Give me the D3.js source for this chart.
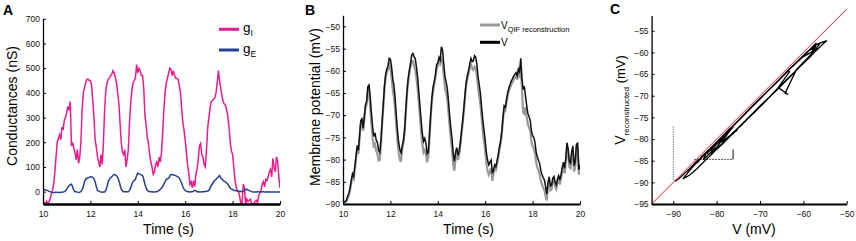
<!DOCTYPE html>
<html>
<head>
<meta charset="utf-8">
<script src="https://cdn.jsdelivr.net/npm/d3@7"></script>
<style>
  body { margin: 0; background: #fff; }
  svg { font-family: "Liberation Sans", Arial, sans-serif; }
</style>
</head>
<body>
<script>
// recordings sampled every 0.05 s from 10 s to 20 s (one row = 1 s)
const timeStart = 10;
const timeStep = 0.05;

const gInh = [
  -40, -45, -50, -38, -48, -42, -30, -10, 5, 30, 80, 140, 200, 215, 230, 210, 262, 250, 290, 300,
  320, 345, 330, 365, 185, 200, 175, 160, 130, 170, 115, 140, 200, 330, 400, 420, 440, 455, 455, 450,
  450, 430, 370, 300, 209, 180, 140, 120, 100, 150, 110, 200, 330, 410, 440, 455, 460, 470, 475, 490,
  480, 465, 440, 400, 360, 280, 200, 160, 150, 170, 100, 130, 170, 280, 360, 410, 440, 450, 460, 515,
  480, 500, 490, 470, 470, 420, 310, 270, 220, 195, 150, 120, 100, 70, 80, 110, 120, 100, 140, 120,
  160, 240, 330, 400, 440, 460, 480, 500, 495, 470, 490, 470, 460, 458, 455, 430, 400, 340, 280, 250,
  209, 160, 110, 75, 30, 40, 15, 45, 20, 70, 90, 130, 185, 195, 150, 140, 110, 100, 170, 260,
  300, 340, 365, 370, 375, 380, 400, 440, 490, 450, 420, 390, 365, 355, 350, 330, 305, 260, 200, 165,
  150, 100, 47, 20, 5, 0, -20, -50, -50, 30, 15, -50, -30, -40, -35, -30, -45, -50, -48, -40,
  -35, -45, -15, -5, 5, 30, 40, 20, 50, 45, 60, 80, 90, 60, 135, 100, 80, 140, 125, 60,
  15
];

const gExc = [
  7, 8, 8, 6, 4, 1, 0, -2, -3, -3, -3, -2, -2, -3, -3, -2, -2, -1, 0, 3,
  10, 18, 25, 28, 30, 20, 5, 0, 0, -2, -3, -2, 0, 8, 20, 40, 50, 54, 55, 58,
  60, 60, 58, 52, 40, 20, 5, 2, 0, -1, -2, -1, -1, 5, 20, 40, 50, 55, 60, 65,
  70, 68, 65, 58, 45, 28, 10, 3, 0, 0, 0, 0, 0, 5, 15, 30, 40, 45, 50, 65,
  75, 72, 70, 68, 65, 50, 30, 15, 5, 2, 0, 0, 0, -1, -1, 0, 0, 2, 5, 10,
  15, 22, 30, 40, 50, 52, 55, 62, 70, 68, 68, 66, 65, 62, 60, 55, 45, 35, 20, 10,
  5, 2, 0, 0, -1, 0, 0, 2, 5, 3, 0, 0, -1, -1, 0, 0, 0, 1, 2, 3,
  5, 15, 25, 32, 40, 45, 50, 55, 60, 65, 55, 52, 45, 42, 40, 35, 30, 22, 15, 10,
  8, 6, 5, 4, 3, 2, 2, 1, 0, 3, 5, 8, 10, 6, 5, 2, 0, -1, -1, -1,
  -1, 0, 0, -1, -1, 0, 0, -1, -1, -1, 0, -1, -1, -1, -1, -1, -1, -1, -1, -1,
  -1
];

const vMeas = [
  -89.5, -89.6, -89.4, -89.0, -88.2, -87.5, -86.3, -84.6, -83.2, -83.8, -81.5, -79.2, -76.8, -77.9, -74.5, -71.2, -70.8, -72.9, -70.2, -67.6,
  -66.8, -63.5, -63.2, -66.0, -69.5, -72.6, -74.8, -74.0, -75.6, -76.1, -77.9, -78.4, -75.8, -71.5, -67.5, -63.4, -60.8, -59.6, -58.9, -57.2,
  -57.4, -59.1, -61.8, -63.4, -66.2, -70.1, -73.5, -76.2, -77.8, -78.5, -76.9, -75.6, -73.2, -68.8, -64.6, -61.7, -59.8, -58.3, -56.4, -56.1,
  -56.9, -57.3, -59.2, -61.5, -64.8, -68.1, -71.3, -74.2, -75.9, -75.2, -76.4, -78.7, -78.4, -74.3, -69.8, -66.1, -63.7, -62.4, -60.9, -58.6,
  -58.2, -57.0, -57.6, -54.6, -55.3, -58.4, -61.2, -62.5, -63.9, -66.8, -70.1, -72.9, -75.2, -78.6, -80.4, -78.3, -77.3, -79.0, -78.1, -76.2,
  -73.6, -71.2, -68.4, -65.1, -62.5, -61.0, -59.9, -58.4, -57.2, -57.9, -57.8, -56.6, -56.9, -58.6, -61.4, -63.2, -65.2, -68.3, -71.1, -73.4,
  -75.8, -78.4, -80.1, -81.2, -80.6, -80.1, -83.1, -82.4, -81.2, -81.6, -80.3, -78.9, -77.1, -75.8, -73.6, -70.5, -67.9, -68.2, -66.4, -64.9,
  -63.8, -63.1, -62.3, -61.8, -61.2, -60.8, -60.4, -61.1, -59.6, -60.2, -57.2, -61.6, -64.2, -63.5, -65.7, -67.8, -69.6, -70.3, -71.2, -73.5,
  -74.6, -75.0, -76.1, -78.3, -79.4, -80.2, -80.9, -82.6, -83.4, -84.1, -84.6, -86.2, -87.8, -85.0, -83.9, -85.9, -85.8, -84.2, -83.8, -85.1,
  -85.7, -84.3, -83.6, -84.6, -83.4, -81.8, -80.6, -82.0, -79.8, -76.2, -77.6, -80.4, -80.8, -78.2, -76.9, -81.4, -80.4, -76.5, -76.3, -82.3,
  -81.2
];

const vQif = [
  -89.6, -89.7, -89.6, -89.4, -88.7, -88.0, -86.9, -85.1, -84.0, -84.4, -82.2, -79.9, -77.4, -78.7, -75.3, -71.9, -71.6, -73.5, -71.0, -68.3,
  -67.6, -64.2, -64.5, -68.4, -72.1, -75.0, -77.3, -76.6, -78.0, -78.7, -80.2, -80.1, -76.5, -72.1, -68.2, -64.0, -61.5, -60.3, -59.7, -58.6,
  -59.4, -61.6, -64.3, -65.9, -68.8, -72.4, -76.0, -78.5, -80.2, -80.3, -77.6, -76.3, -73.9, -69.5, -65.3, -62.4, -60.7, -59.1, -57.9, -57.8,
  -58.9, -59.8, -61.7, -64.0, -67.2, -70.6, -73.9, -76.6, -78.4, -77.9, -78.8, -80.6, -79.2, -75.0, -70.5, -66.9, -64.5, -63.1, -61.6, -59.5,
  -59.0, -57.8, -58.4, -57.3, -57.9, -60.9, -63.7, -65.0, -66.3, -69.3, -72.5, -75.4, -77.6, -81.0, -82.5, -79.6, -78.3, -80.1, -79.0, -76.9,
  -74.3, -71.8, -69.1, -65.8, -63.2, -61.7, -60.7, -59.2, -58.6, -59.5, -59.8, -59.1, -59.4, -61.2, -63.9, -65.8, -67.7, -70.8, -73.6, -75.8,
  -78.2, -80.9, -82.5, -83.4, -82.6, -81.9, -84.8, -83.3, -81.9, -82.3, -81.0, -79.6, -77.8, -76.5, -74.3, -71.1, -68.6, -68.9, -67.1, -65.6,
  -64.5, -63.8, -63.1, -62.6, -62.0, -61.6, -61.2, -62.0, -60.5, -61.1, -59.4, -64.0, -69.4, -69.7, -68.2, -70.3, -72.1, -72.7, -73.6, -75.9,
  -77.0, -77.4, -78.5, -80.6, -81.8, -82.5, -83.3, -84.9, -85.7, -86.4, -86.9, -88.3, -89.2, -85.8, -84.6, -86.9, -86.7, -85.0, -84.5, -86.0,
  -86.6, -85.1, -84.4, -85.6, -84.2, -82.6, -81.4, -83.1, -80.6, -77.1, -78.9, -81.6, -81.9, -79.1, -77.8, -82.7, -81.5, -77.3, -77.4, -83.4,
  -82.1
];

// transient segments in panel C, as (V, V reconstructed) pairs
const onsetSeg = [[-90, -89.5], [-90, -76.8]];
const jumpSeg = [[-85.2, -84.7], [-76.2, -84.7]];
const jumpBack = [[-76.2, -84.7], [-76.2, -82.4]];
const identity = [-95, -50];

const timeTicks = [10, 12, 14, 16, 18, 20];
const gTicks = [0, 100, 200, 300, 400, 500, 600, 700];
const vTicks = [-90, -85, -80, -75, -70, -65, -60, -55, -50];
const cXTicks = [-90, -80, -70, -60, -50];
const cYTicks = [-95, -90, -85, -80, -75, -70, -65, -60, -55];

const pink = '#ec1b8c';
const blue = '#243f95';

let width = 856, height = 241;
let svg = d3.select('body').append('svg').attr('width', width).attr('height', height);

let times = gInh.map((d, i) => timeStart + i * timeStep);

function axes(g, x, y, xTicks, yTicks, xw) {
  let xa = g.append('g')
    .attr('transform', `translate(0,${y.range()[0]})`)
    .call(d3.axisBottom(x).tickValues(xTicks).tickSizeInner(-3).tickSizeOuter(0).tickPadding(7));
  xa.select('.domain').attr('stroke-width', xw);
  let ya = g.append('g')
    .attr('transform', `translate(${x.range()[0]},0)`)
    .call(d3.axisLeft(y).tickValues(yTicks).tickSizeInner(-3).tickSizeOuter(0).tickPadding(3));
  ya.select('.domain').attr('stroke-width', 1.3);
  g.selectAll('.tick text').attr('font-size', 8.5).attr('fill', '#111');
  g.selectAll('.tick line').attr('stroke-width', 1);
  xa.attr('font-family', null);
  ya.attr('font-family', null);
}

function clip(id, x, y) {
  svg.append('clipPath').attr('id', id).append('rect')
    .attr('x', x.range()[0]).attr('y', y.range()[1])
    .attr('width', x.range()[1] - x.range()[0])
    .attr('height', y.range()[0] - y.range()[1]);
}

function panelLetter(txt, x, y) {
  svg.append('text').attr('x', x).attr('y', y)
    .attr('font-size', 14).attr('font-weight', 'bold').text(txt);
}

// ---------- A: conductances
let xA = d3.scaleLinear().domain([10, 20]).range([43, 280]);
let yA = d3.scaleLinear().domain([-50, 700]).range([204, 18.8]);
let gA = svg.append('g');
clip('clipA', xA, yA);

let lineA = (vals) => d3.line().x((d, i) => xA(times[i])).y(d => yA(d))(vals);

gA.append('path').attr('d', lineA(gInh)).attr('fill', 'none')
  .attr('stroke', pink).attr('stroke-width', 1.5).attr('clip-path', 'url(#clipA)');
gA.append('path').attr('d', lineA(gExc)).attr('fill', 'none')
  .attr('stroke', blue).attr('stroke-width', 1.5).attr('clip-path', 'url(#clipA)');

axes(gA, xA, yA, timeTicks, gTicks, 2.6);

gA.append('text').attr('transform', 'translate(17,106) rotate(-90)')
  .attr('text-anchor', 'middle').attr('font-size', 14).text('Conductances (nS)');
gA.append('text').attr('x', 168.5).attr('y', 234)
  .attr('text-anchor', 'middle').attr('font-size', 14).text('Time (s)');

// legend A
let legA = [{c: pink, sub: 'I', y: 29.3}, {c: blue, sub: 'E', y: 50}];
legA.forEach(l => {
  gA.append('line').attr('x1', 219).attr('x2', 239).attr('y1', l.y).attr('y2', l.y)
    .attr('stroke', l.c).attr('stroke-width', 3);
  let t = gA.append('text').attr('x', 243).attr('y', l.y + 3).attr('font-size', 13.5);
  t.append('tspan').text('g');
  t.append('tspan').attr('font-size', 8.5).attr('dy', 4).text(l.sub);
});
panelLetter('A', 3, 15);

// ---------- B: membrane potential
let xB = d3.scaleLinear().domain([10, 20]).range([343, 580]);
let yB = d3.scaleLinear().domain([-90, -47.5]).range([204, 15.3]);
let gB = svg.append('g');
clip('clipB', xB, yB);

let lineB = (vals) => d3.line().x((d, i) => xB(times[i])).y(d => yB(d))(vals);

gB.append('path').attr('d', lineB(vQif)).attr('fill', 'none')
  .attr('stroke', '#9a9a9a').attr('stroke-width', 2.2).attr('clip-path', 'url(#clipB)');
gB.append('path').attr('d', lineB(vMeas)).attr('fill', 'none')
  .attr('stroke', '#111').attr('stroke-width', 1.5).attr('clip-path', 'url(#clipB)');

axes(gB, xB, yB, timeTicks, vTicks, 2);

gB.append('text').attr('transform', 'translate(320,107) rotate(-90)')
  .attr('text-anchor', 'middle').attr('font-size', 14).text('Membrane potential (mV)');
gB.append('text').attr('x', 468.5).attr('y', 234)
  .attr('text-anchor', 'middle').attr('font-size', 14).text('Time (s)');

// legend B
gB.append('line').attr('x1', 480).attr('x2', 500).attr('y1', 25).attr('y2', 25)
  .attr('stroke', '#9a9a9a').attr('stroke-width', 3);
let tq = gB.append('text').attr('x', 501).attr('y', 28.5).attr('font-size', 10);
tq.append('tspan').text('V');
tq.append('tspan').attr('font-size', 7.5).attr('dy', 3.5).text('QIF reconstruction');
gB.append('line').attr('x1', 480).attr('x2', 500).attr('y1', 42.3).attr('y2', 42.3)
  .attr('stroke', '#000').attr('stroke-width', 3);
gB.append('text').attr('x', 501).attr('y', 45.5).attr('font-size', 10).text('V');
panelLetter('B', 305, 15);

// ---------- C: reconstruction vs measured
let xC = d3.scaleLinear().domain([-95, -50]).range([651.6, 846.7]);
let yC = d3.scaleLinear().domain([-95, -51.5]).range([204, 15.6]);
let gC = svg.append('g');

let pairs = vMeas.map((v, i) => [v, vQif[i]]);
let lineC = d3.line().x(d => xC(d[0])).y(d => yC(d[1]));

gC.append('path').attr('d', lineC(onsetSeg)).attr('fill', 'none')
  .attr('stroke', '#777').attr('stroke-width', 1).attr('stroke-dasharray', '1.5,1');
gC.append('path').attr('d', lineC(jumpSeg)).attr('fill', 'none')
  .attr('stroke', '#555').attr('stroke-width', 1).attr('stroke-dasharray', '2,1');
gC.append('path').attr('d', lineC(jumpBack)).attr('fill', 'none')
  .attr('stroke', '#111').attr('stroke-width', 1);
gC.append('path').attr('d', lineC(pairs)).attr('fill', 'none')
  .attr('stroke', '#000').attr('stroke-width', 1.3);

gC.append('line')
  .attr('x1', xC(identity[0])).attr('y1', yC(identity[0]))
  .attr('x2', xC(identity[1])).attr('y2', yC(identity[1]))
  .attr('stroke', '#e3202e').attr('stroke-width', 1);

axes(gC, xC, yC, cXTicks, cYTicks, 2);

let ty = gC.append('text').attr('transform', 'translate(625,100) rotate(-90)')
  .attr('text-anchor', 'middle').attr('font-size', 14);
ty.append('tspan').text('V');
ty.append('tspan').attr('font-size', 8).attr('dy', 4).text('reconstructed');
ty.append('tspan').attr('font-size', 13).attr('dy', -4).text(' (mV)');
gC.append('text').attr('x', 754).attr('y', 234)
  .attr('text-anchor', 'middle').attr('font-size', 14).text('V (mV)');
panelLetter('C', 610, 14);
</script>
</body>
</html>
